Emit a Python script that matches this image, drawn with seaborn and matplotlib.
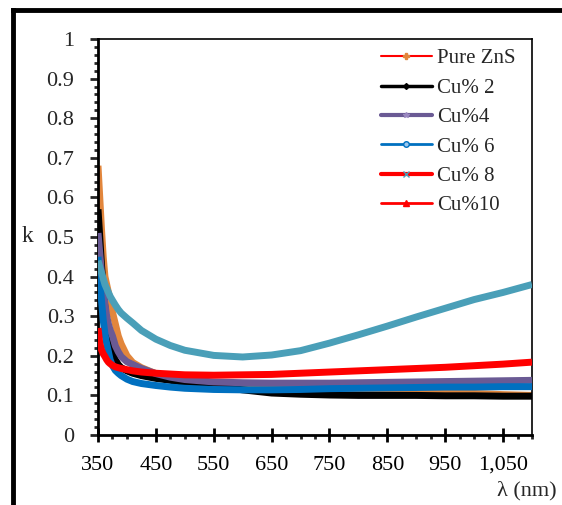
import matplotlib
matplotlib.use("Agg")
import matplotlib.pyplot as plt
from matplotlib.lines import Line2D
from matplotlib.ticker import MultipleLocator, FixedLocator, FixedFormatter, FuncFormatter
import seaborn as sns
import pandas as pd

# ---- data ----
wavelength = [350, 353, 356, 359, 362, 365, 368, 371, 375, 380, 385, 390, 400, 410, 425,
              450, 475, 500, 550, 600, 650, 700, 750, 800, 850, 900, 950, 1000, 1050, 1100]

pure_zns = [0.68, 0.60, 0.52, 0.45, 0.40, 0.38, 0.36, 0.34, 0.31, 0.28, 0.25, 0.23, 0.20, 0.183, 0.17,
            0.155, 0.145, 0.138, 0.132, 0.128, 0.125, 0.122, 0.12, 0.117, 0.114, 0.111, 0.108, 0.105, 0.102, 0.10]
cu2 = [0.57, 0.50, 0.43, 0.37, 0.32, 0.28, 0.25, 0.23, 0.21, 0.19, 0.178, 0.17, 0.162, 0.156, 0.15,
       0.143, 0.138, 0.133, 0.124, 0.114, 0.106, 0.103, 0.101, 0.10, 0.10, 0.10, 0.099, 0.099, 0.098, 0.098]
cu4 = [0.51, 0.46, 0.41, 0.37, 0.33, 0.30, 0.28, 0.265, 0.25, 0.225, 0.21, 0.198, 0.185, 0.178, 0.168,
       0.155, 0.146, 0.14, 0.134, 0.132, 0.131, 0.131, 0.131, 0.132, 0.133, 0.134, 0.135, 0.136, 0.137, 0.138]
cu6 = [0.45, 0.39, 0.34, 0.29, 0.255, 0.23, 0.21, 0.19, 0.175, 0.163, 0.156, 0.15, 0.141, 0.135, 0.13,
       0.125, 0.121, 0.118, 0.115, 0.114, 0.114, 0.115, 0.117, 0.118, 0.119, 0.12, 0.121, 0.121, 0.122, 0.122]
cu8 = [0.44, 0.425, 0.41, 0.395, 0.38, 0.37, 0.36, 0.35, 0.34, 0.328, 0.317, 0.308, 0.295, 0.283, 0.264,
       0.242, 0.226, 0.214, 0.201, 0.197, 0.202, 0.213, 0.232, 0.253, 0.275, 0.298, 0.32, 0.342, 0.36, 0.38]
cu10 = [0.27, 0.232, 0.215, 0.205, 0.198, 0.19, 0.184, 0.18, 0.176, 0.172, 0.17, 0.168, 0.165, 0.162, 0.159,
        0.156, 0.154, 0.152, 0.151, 0.152, 0.153, 0.156, 0.159, 0.162, 0.165, 0.168, 0.171, 0.175, 0.179, 0.184]

series_names = ["Pure ZnS", "Cu% 2", "Cu%4", "Cu% 6", "Cu% 8", "Cu%10"]
series_values = [pure_zns, cu2, cu4, cu6, cu8, cu10]
series_colors = ["#E2863C", "#000000", "#6A5A94", "#0070C0", "#4A9FB8", "#FF0000"]
series_widths = [5.0, 5.0, 5.0, 5.0, 5.0, 5.0]

xtick_values = [350, 450, 550, 650, 750, 850, 950, 1050]
xtick_labels = ["350", "450", "550", "650", "750", "850", "950", "1,050"]

# ---- figure ----
sns.set_style("ticks")
plt.rcParams["font.family"] = ["Liberation Serif", "DejaVu Serif"]

fig = plt.figure(figsize=(5.62, 5.05), dpi=100)
ax = fig.add_axes([0.1744, 0.1386, 0.9466 - 0.1744, 0.9228 - 0.1386])

rows = []
for name, vals in zip(series_names, series_values):
    for w, v in zip(wavelength, vals):
        rows.append({"wavelength": w, "k": v, "series": name})
df = pd.DataFrame(rows)

for i, (name, col, lw) in enumerate(zip(series_names, series_colors, series_widths)):
    sub = df[df["series"] == name]
    sns.lineplot(data=sub, x="wavelength", y="k", color=col, linewidth=lw,
                 ax=ax, legend=False, zorder=2 + i, solid_capstyle="butt")

ax.set_xlim(350, 1100)
ax.set_ylim(0, 1)
ax.set_xlabel("")
ax.set_ylabel("")

ax.xaxis.set_major_locator(FixedLocator(xtick_values))
ax.xaxis.set_major_formatter(FixedFormatter(xtick_labels))
ax.xaxis.set_minor_locator(MultipleLocator(25))
ax.yaxis.set_major_locator(MultipleLocator(0.1))
ax.yaxis.set_minor_locator(MultipleLocator(0.02))
ax.yaxis.set_major_formatter(FuncFormatter(lambda v, p: f"{v:g}"))

ax.tick_params(axis="x", which="major", direction="inout", length=10, width=2,
               labelsize=16, pad=10, colors="black")
ax.tick_params(axis="x", which="minor", direction="out", length=3, width=2)
ax.tick_params(axis="y", which="major", direction="out", length=6, width=2,
               labelsize=16, pad=11)
ax.tick_params(axis="y", which="minor", direction="out", length=3, width=2)

for s in ["left", "bottom"]:
    ax.spines[s].set_linewidth(2)
    ax.spines[s].set_color("black")
for s in ["top", "right"]:
    ax.spines[s].set_visible(True)
    ax.spines[s].set_linewidth(1.2)
    ax.spines[s].set_color("black")

# legend
handles = [
    Line2D([], [], color="#FF0000", lw=1.5, marker="P", ms=5, mfc="#E2863C", mec="#E2863C"),
    Line2D([], [], color="#000000", lw=2.5, marker="D", ms=3, mfc="#000000", mec="#000000"),
    Line2D([], [], color="#6A5A94", lw=3, marker="*", ms=4, mfc="#9A88C0", mec="#9A88C0"),
    Line2D([], [], color="#0070C0", lw=2, marker="o", ms=4, mfc="#9CC8EE", mec="#0070C0"),
    Line2D([], [], color="#FF0000", lw=3, marker="x", ms=4, mfc="#4A9FB8", mec="#4A9FB8"),
    Line2D([], [], color="#FF0000", lw=2, marker="^", ms=5, mfc="#FF0000", mec="#FF0000"),
]
ax.legend(handles, series_names, loc="upper left", bbox_to_anchor=(0.652, 0.975),
          frameon=False, fontsize=15, handlelength=2.45, handletextpad=0.25,
          labelspacing=0.47, borderpad=0, borderaxespad=0)

# axis labels as figure text
fig.text(27 / 562, 1 - 237 / 505, "k", fontsize=17, ha="center", va="center")
fig.text(527 / 562, 1 - 491 / 505, "λ (nm)", fontsize=16, ha="center", va="center")

# outer partial frame
fig.add_artist(Line2D([13 / 562, 13 / 562], [0, 1 - 10 / 505], color="black", lw=3.5,
                      transform=fig.transFigure, solid_capstyle="projecting"))
fig.add_artist(Line2D([13 / 562, 1], [1 - 10 / 505, 1 - 10 / 505], color="black", lw=3.5,
                      transform=fig.transFigure, solid_capstyle="projecting"))

fig.savefig("out.png", dpi=100)
